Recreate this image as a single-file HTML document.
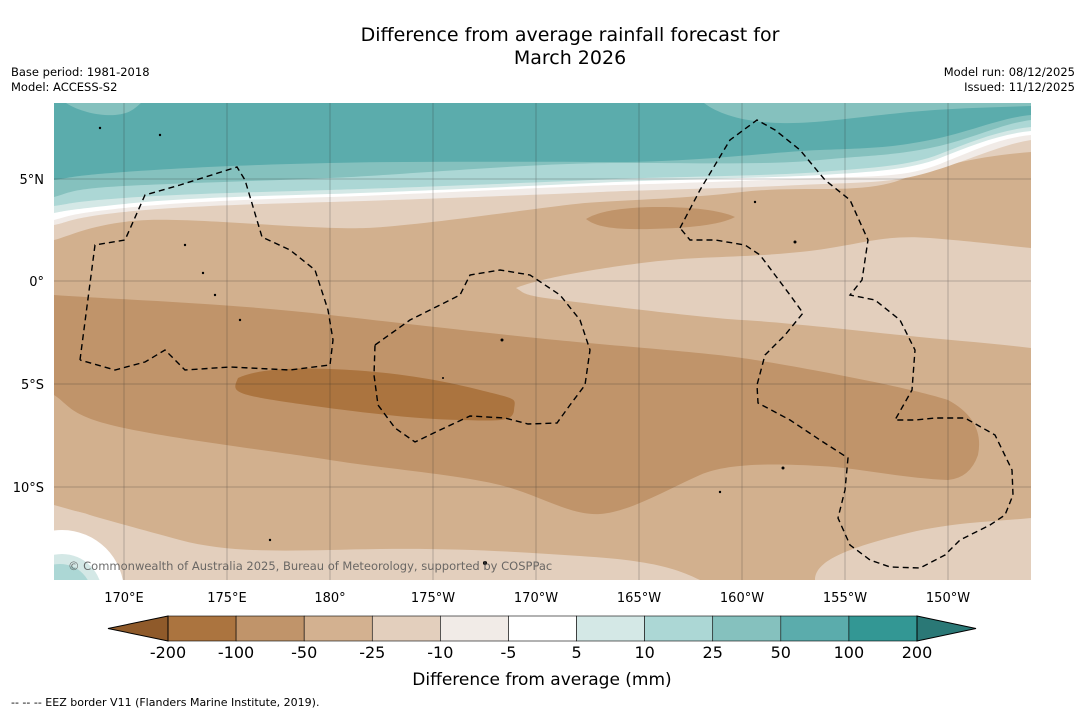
<!DOCTYPE html>
<html><head><meta charset="utf-8"><style>
body{margin:0;background:#fff;width:1085px;height:713px;overflow:hidden;font-family:"DejaVu Sans","Liberation Sans",sans-serif}
svg{display:block}
</style></head><body>
<svg width="1085" height="713" viewBox="0 0 1085 713" xmlns="http://www.w3.org/2000/svg" font-family="DejaVu Sans, Liberation Sans, sans-serif">
<defs><clipPath id="mapclip"><rect x="54" y="103" width="977" height="477"/></clipPath></defs>
<text x="570" y="41" font-size="19" text-anchor="middle">Difference from average rainfall forecast for</text>
<text x="570" y="64" font-size="19" text-anchor="middle">March 2026</text>
<text x="11" y="76" font-size="11.5">Base period: 1981-2018</text>
<text x="11" y="91" font-size="11.5">Model: ACCESS-S2</text>
<text x="1075" y="76" font-size="11.5" text-anchor="end">Model run: 08/12/2025</text>
<text x="1075" y="91" font-size="11.5" text-anchor="end">Issued: 11/12/2025</text>

<g clip-path="url(#mapclip)">
<rect x="54" y="103" width="977" height="477" fill="#d2b08e"/>
<path fill="#e3cfbd" d="M54,505 C90,515 124,525 180,540 S300,550 380,549 S520,552 580,556 S670,565 700,580 L54,580 Z"/>
<path fill="#e3cfbd" d="M815,580 C815,560 850,548 900,535 S990,522 1031,518 L1031,580 Z"/>
<path fill="#c0946a" d="M54,295 C124,300 227,303 330,315 S480,332 536,338 S700,352 742,358 S900,385 948,400 Q985,420 978,455 Q970,478 948,480 C900,478 860,468 820,466 S730,462 700,475 S630,512 600,514 S540,495 500,485 S380,468 330,460 S180,440 124,428 S70,405 54,395 Z"/>
<path fill="#ab743f" d="M238,378 C260,368 300,367 350,370 S440,380 480,390 S515,398 514,410 S500,421 460,420 S370,414 300,404 S232,392 238,378 Z"/>
<path fill="#c0946a" d="M586,219 C600,210 630,207 660,207 S720,210 735,217 C720,225 690,228 650,229 S595,226 586,219 Z"/>
<path fill="#e3cfbd" d="M516,288 C540,278 600,268 650,262 S742,258 800,252 S880,234 930,238 S1000,245 1031,248 L1031,348 C990,343 948,340 900,335 S780,322 742,320 S600,305 560,300 S525,293 516,288 Z"/>
<path fill="#e3cfbd" d="M54,103 L1031,103 L1031,152 C980,156 940,165 900,180 S800,185 742,192 S620,200 585,203 S420,226 366,228 S200,218 148,220 S70,236 54,240 Z"/>
<path fill="#f1ebe7" d="M54,103 L1031,103 L1031,140 C1000,145 970,160 930,172 S860,182 800,185 S640,190 600,192 S400,200 330,202 S180,206 124,212 S70,222 54,225 Z"/>
<path fill="#ffffff" d="M54,103 L1031,103 L1031,135 C1000,138 975,150 940,164 S870,176 820,178 S660,184 616,185 S400,195 330,197 S180,202 124,208 S70,216 54,220 Z"/>
<path fill="#d4e8e6" d="M54,103 L1031,103 L1031,131 C1000,134 970,146 940,158 S870,172 820,175 S660,180 616,182 S400,192 330,194 S180,198 124,204 S70,210 54,213 Z"/>
<path fill="#acd7d5" d="M54,103 L1031,103 L1031,127 C1000,130 970,142 940,154 S870,168 820,172 S660,177 616,179 S400,188 330,190 S180,194 124,198 S70,204 54,206 Z"/>
<path fill="#85c1be" d="M54,103 L1031,103 L1031,120 C1000,124 970,140 930,148 S870,155 820,160 S700,163 616,163 S400,175 330,178 S180,183 124,186 S70,193 54,197 Z"/>
<path fill="#5bacac" d="M54,103 L1031,103 L1031,115 C1000,118 970,132 930,140 S870,148 820,150 S700,162 616,162 S420,161 330,163 S180,168 124,172 S70,178 54,180 Z"/>
<path fill="#85c1be" d="M704,103 C720,115 745,122 780,123 S850,118 900,113 S980,108 1031,106 L1031,103 Z"/>
<path fill="#85c1be" d="M66,103 C80,112 100,116 115,115 S135,108 141,103 Z"/>
<circle cx="62" cy="590" r="80" fill="#e3cfbd"/>
<circle cx="62" cy="592" r="62" fill="#ffffff"/>
<circle cx="62" cy="594" r="40" fill="#d4e8e6"/>
<circle cx="60" cy="596" r="32" fill="#acd7d5"/>
<g stroke="#222" stroke-width="0.5" opacity="0.5">
<line x1="124" y1="103" x2="124" y2="580"/><line x1="227" y1="103" x2="227" y2="580"/><line x1="330" y1="103" x2="330" y2="580"/><line x1="433" y1="103" x2="433" y2="580"/><line x1="536" y1="103" x2="536" y2="580"/><line x1="639" y1="103" x2="639" y2="580"/><line x1="742" y1="103" x2="742" y2="580"/><line x1="845" y1="103" x2="845" y2="580"/><line x1="948" y1="103" x2="948" y2="580"/>
<line x1="54" y1="179" x2="1031" y2="179"/><line x1="54" y1="281" x2="1031" y2="281"/><line x1="54" y1="384" x2="1031" y2="384"/><line x1="54" y1="487" x2="1031" y2="487"/>
</g>
<g fill="none" stroke="#000" stroke-width="1.4" stroke-dasharray="6,4">
<polyline points="80,360 95,245 125,240 145,195 180,185 237,167 245,180 262,237 290,250 315,270 328,310 333,340 330,365 290,370 230,367 185,370 165,350 145,362 115,370 80,360"/>
<polyline points="375,345 410,320 460,295 470,275 500,270 530,275 560,295 580,320 590,350 585,385 570,405 557,423 528,424 505,418 470,416 440,430 415,442 395,428 378,405 374,375 375,345"/>
<polyline points="680,228 700,190 730,140 757,120 775,130 800,150 825,180 850,200 868,240 862,280 850,295 875,300 900,320 915,350 912,390 895,420 915,420 935,418 965,418 995,435 1012,470 1013,495 1005,515 990,525 960,540 945,555 920,568 890,567 870,560 850,545 838,518 845,490 848,458 820,440 790,420 758,403 757,385 765,355 785,335 803,313 790,295 775,275 760,255 745,245 715,240 690,240 680,228"/>
</g>
<g fill="#000">
<circle cx="185" cy="245" r="1.2"/><circle cx="203" cy="273" r="1.2"/><circle cx="215" cy="295" r="1.2"/><circle cx="240" cy="320" r="1.2"/><circle cx="502" cy="340" r="1.5"/><circle cx="443" cy="378" r="1"/><circle cx="783" cy="468" r="1.5"/><circle cx="720" cy="492" r="1.2"/><circle cx="755" cy="202" r="1.2"/><circle cx="795" cy="242" r="1.5"/><circle cx="160" cy="135" r="1.2"/><circle cx="100" cy="128" r="1.2"/><circle cx="485" cy="563" r="2"/><circle cx="270" cy="540" r="1.2"/>
</g>
<text x="68" y="570" font-size="11.5" fill="#555" opacity="0.85">© Commonwealth of Australia 2025, Bureau of Meteorology, supported by COSPPac</text>
</g>

<g font-size="13" text-anchor="middle">
<text x="124" y="602">170°E</text><text x="227" y="602">175°E</text><text x="330" y="602">180°</text><text x="433" y="602">175°W</text><text x="536" y="602">170°W</text><text x="639" y="602">165°W</text><text x="742" y="602">160°W</text><text x="845" y="602">155°W</text><text x="948" y="602">150°W</text>
</g>
<g font-size="13" text-anchor="end">
<text x="44" y="184">5°N</text><text x="44" y="286">0°</text><text x="44" y="389">5°S</text><text x="44" y="492">10°S</text>
</g>

<g id="colorbar"></g>
<text x="542" y="685" font-size="17" text-anchor="middle">Difference from average (mm)</text>
<text x="11" y="706" font-size="11">--  --  -- EEZ border V11 (Flanders Marine Institute, 2019).</text>
</svg>
<script>
const binLabels=["-200","-100","-50","-25","-10","-5","5","10","25","50","100","200"];
const binColors=["#ab743f","#c0946a","#d3b190","#e3cfbd","#f1ebe7","#ffffff","#d4e8e6","#acd7d5","#85c1be","#5bacac","#339794"];
const extendColors=["#8f5a2a","#2a7876"];
(function(){
const NS="http://www.w3.org/2000/svg";
const cb=document.getElementById('colorbar');
const x0=168,x1=917,cbTop=616,h=25,w=(x1-x0)/binColors.length;
function xs(i){return x0+i*w;}
function mk(t,a){const e=document.createElementNS(NS,t);for(const k in a)e.setAttribute(k,a[k]);cb.appendChild(e);return e;}
binColors.forEach((c,i)=>{
 const r=mk('rect',{x:xs(i),y:cbTop,width:w,height:h,fill:c,stroke:'#000','stroke-width':0.6});
 
 
});
const lt=mk('polygon',{points:`108,${cbTop+h/2} ${x0},${cbTop} ${x0},${cbTop+h}`,fill:extendColors[0],stroke:'#000','stroke-width':1});


const rt=mk('polygon',{points:`976,${cbTop+h/2} ${x1},${cbTop} ${x1},${cbTop+h}`,fill:extendColors[1],stroke:'#000','stroke-width':1});


binLabels.forEach((l,i)=>{
 const t=mk('text',{x:xs(i),y:658,'font-size':16,'text-anchor':'middle'});
 t.textContent=l;
 
 
});
})();
</script>
</body></html>
